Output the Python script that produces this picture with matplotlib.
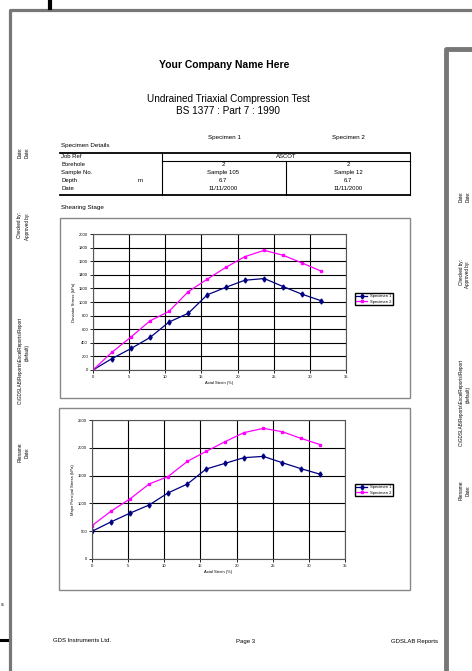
import matplotlib
matplotlib.use('Agg')
import matplotlib.pyplot as plt
from matplotlib.patches import Rectangle

plt.rcParams['font.family'] = ['Liberation Sans', 'DejaVu Sans']

# дані з графіків (осьова деформація, %)
strain = [0, 2.6, 5.3, 7.9, 10.5, 13.2, 15.8, 18.4, 21.0, 23.7, 26.3, 28.9, 31.6]
dev_spec1 = [0, 166, 318, 479, 704, 836, 1105, 1217, 1320, 1345, 1227, 1115, 1017]
dev_spec2 = [0, 259, 489, 724, 861, 1154, 1335, 1511, 1667, 1760, 1687, 1575, 1452]
major_spec1 = [498, 666, 827, 971, 1187, 1349, 1619, 1720, 1822, 1846, 1733, 1625, 1523]
major_spec2 = [600, 857, 1085, 1349, 1481, 1757, 1936, 2110, 2272, 2350, 2290, 2170, 2056]
series_names = ['Specimen 1', 'Specimen 2']

# таблиця зразків
row_labels = ['Job Ref', 'Borehole', 'Sample No.', 'Depth', 'Date']
job_ref = 'ASCOT'
spec1_values = ['2', 'Sample 105', '6.7', '11/11/2000']
spec2_values = ['2', 'Sample 12', '6.7', '11/11/2000']

W, H = 472, 671
fig = plt.figure(figsize=(W / 100, H / 100), dpi=100)

# "сторінка" в піксельних координатах
page = fig.add_axes([0, 0, 1, 1])
page.set_xlim(0, W)
page.set_ylim(H, 0)
page.axis('off')


def rect(x0, y0, x1, y1):
    return [x0 / W, 1 - y1 / H, (x1 - x0) / W, (y1 - y0) / H]


def txt(x, y, s, size=4.5, **kw):
    page.text(x, y, s, fontsize=size, va='center', **kw)


# рамки сторінок
page.plot([10, 10, W], [H, 10, 10], color='#777777', lw=2.3, solid_capstyle='butt')
page.plot([49.5, 49.5], [0, 8], color='black', lw=3)
page.plot([0, 7], [640, 640], color='black', lw=2.2)
txt(1, 605, 's', 4)
page.add_patch(Rectangle((445, 48), 40, 700, facecolor='white', edgecolor='none', zorder=3))
page.plot([445.5, 445.5, W], [H, 48.5, 48.5], color='#777777', lw=3.5, zorder=4)

# заголовки
txt(224, 65, 'Your Company Name Here', 7.5, ha='center', weight='bold')
txt(228, 99, 'Undrained Triaxial Compression Test', 7.2, ha='center')
txt(228, 111, 'BS 1377 : Part 7 : 1990', 7.2, ha='center')

txt(224, 138, 'Specimen 1', 4.5, ha='center')
txt(348, 138, 'Specimen 2', 4.5, ha='center')
txt(61, 146, 'Specimen Details', 4.5)

# таблиця
page.plot([60, 410], [152.5, 152.5], color='black', lw=1.3)
page.plot([60, 410], [194.5, 194.5], color='black', lw=1.3)
page.plot([161.5, 161.5], [152.5, 194.5], color='black', lw=0.8)
page.plot([410, 410], [152.5, 194.5], color='black', lw=0.8)
page.plot([161.5, 410], [160.5, 160.5], color='black', lw=0.8)
page.plot([286, 286], [160.5, 194.5], color='black', lw=0.8)
rows_y = [156, 164.5, 172.5, 180.5, 188.5]
for lab, y in zip(row_labels, rows_y):
    txt(61, y, lab, 4.3)
txt(138, 180.5, 'm', 4.3)
txt(286, 156.5, job_ref, 4.3, ha='center')
for v1, v2, y in zip(spec1_values, spec2_values, rows_y[1:]):
    txt(223, y, v1, 4.3, ha='center')
    txt(348, y, v2, 4.3, ha='center')

txt(61, 207, 'Shearing Stage', 4.5)

# рамки діаграм
page.add_patch(Rectangle((60, 217.5), 350, 180, facecolor='none', edgecolor='#888888', lw=1))
page.add_patch(Rectangle((59, 407.5), 351, 182, facecolor='none', edgecolor='#888888', lw=1))

# підписи збоку (повернуті)
for x, pieces in [(20, [(152, 'Date:'), (225, 'Checked by:'),
                        (360, 'C:\\GDSLAB\\Reports\\ExcelReports\\Report'), (452, 'Filename:')]),
                  (27, [(152, 'Date:'), (226, 'Approved by:'), (352, '(default)'), (452, 'Date:')]),
                  (461, [(196, 'Date:'), (272, 'Checked by:'),
                         (402, 'C:\\GDSLAB\\Reports\\ExcelReports\\Report'), (490, 'Filename:')]),
                  (468, [(196, 'Date:'), (274, 'Approved by:'), (394, '(default)'), (490, 'Date:')])]:
    for y, s in pieces:
        page.text(x, y, s, fontsize=3.3, rotation=90, ha='center', va='center', zorder=5)

# нижній колонтитул
txt(53, 641, 'GDS Instruments Ltd.', 4.3)
txt(246, 641, 'Page 3', 4.3, ha='center')
txt(438, 641, 'GDSLAB Reports', 4.3, ha='right')


def draw_chart(box, y1, y2, ymax, ystep, ylabel, leg_y):
    ax = fig.add_axes(rect(*box))
    ax.plot(strain, y1, color='#000080', marker='d', ms=2.6, lw=0.9, label=series_names[0])
    ax.plot(strain, y2, color='#FF00FF', marker='s', ms=2.0, lw=0.9, label=series_names[1])
    ax.set_xlim(0, 35)
    ax.set_ylim(0, ymax)
    ax.set_xticks(range(0, 36, 5))
    ax.set_yticks(range(0, ymax + 1, ystep))
    ax.grid(True, color='black', lw=0.8)
    ax.set_axisbelow(True)
    for sp in ax.spines.values():
        sp.set_color('#555555')
        sp.set_linewidth(0.8)
    ax.tick_params(labelsize=3, length=2, width=0.6, pad=1.5)
    ax.set_xlabel('Axial Strain (%)', fontsize=3, labelpad=1.5)
    ax.set_ylabel(ylabel, fontsize=3, labelpad=2)
    ax.legend(loc='center left', bbox_to_anchor=(353 / W, 1 - leg_y / H),
              bbox_transform=fig.transFigure, fontsize=3, frameon=True,
              fancybox=False, edgecolor='black', handlelength=2.5,
              borderpad=0.3, labelspacing=0.3, framealpha=1)
    return ax


draw_chart((93, 234, 346, 370), dev_spec1, dev_spec2, 2000, 200, 'Deviator Stress (kPa)', 299)
draw_chart((92, 420, 345, 559), major_spec1, major_spec2, 2500, 500,
           'Major Principal Stress (kPa)', 490)

fig.savefig('out.png', dpi=100)
